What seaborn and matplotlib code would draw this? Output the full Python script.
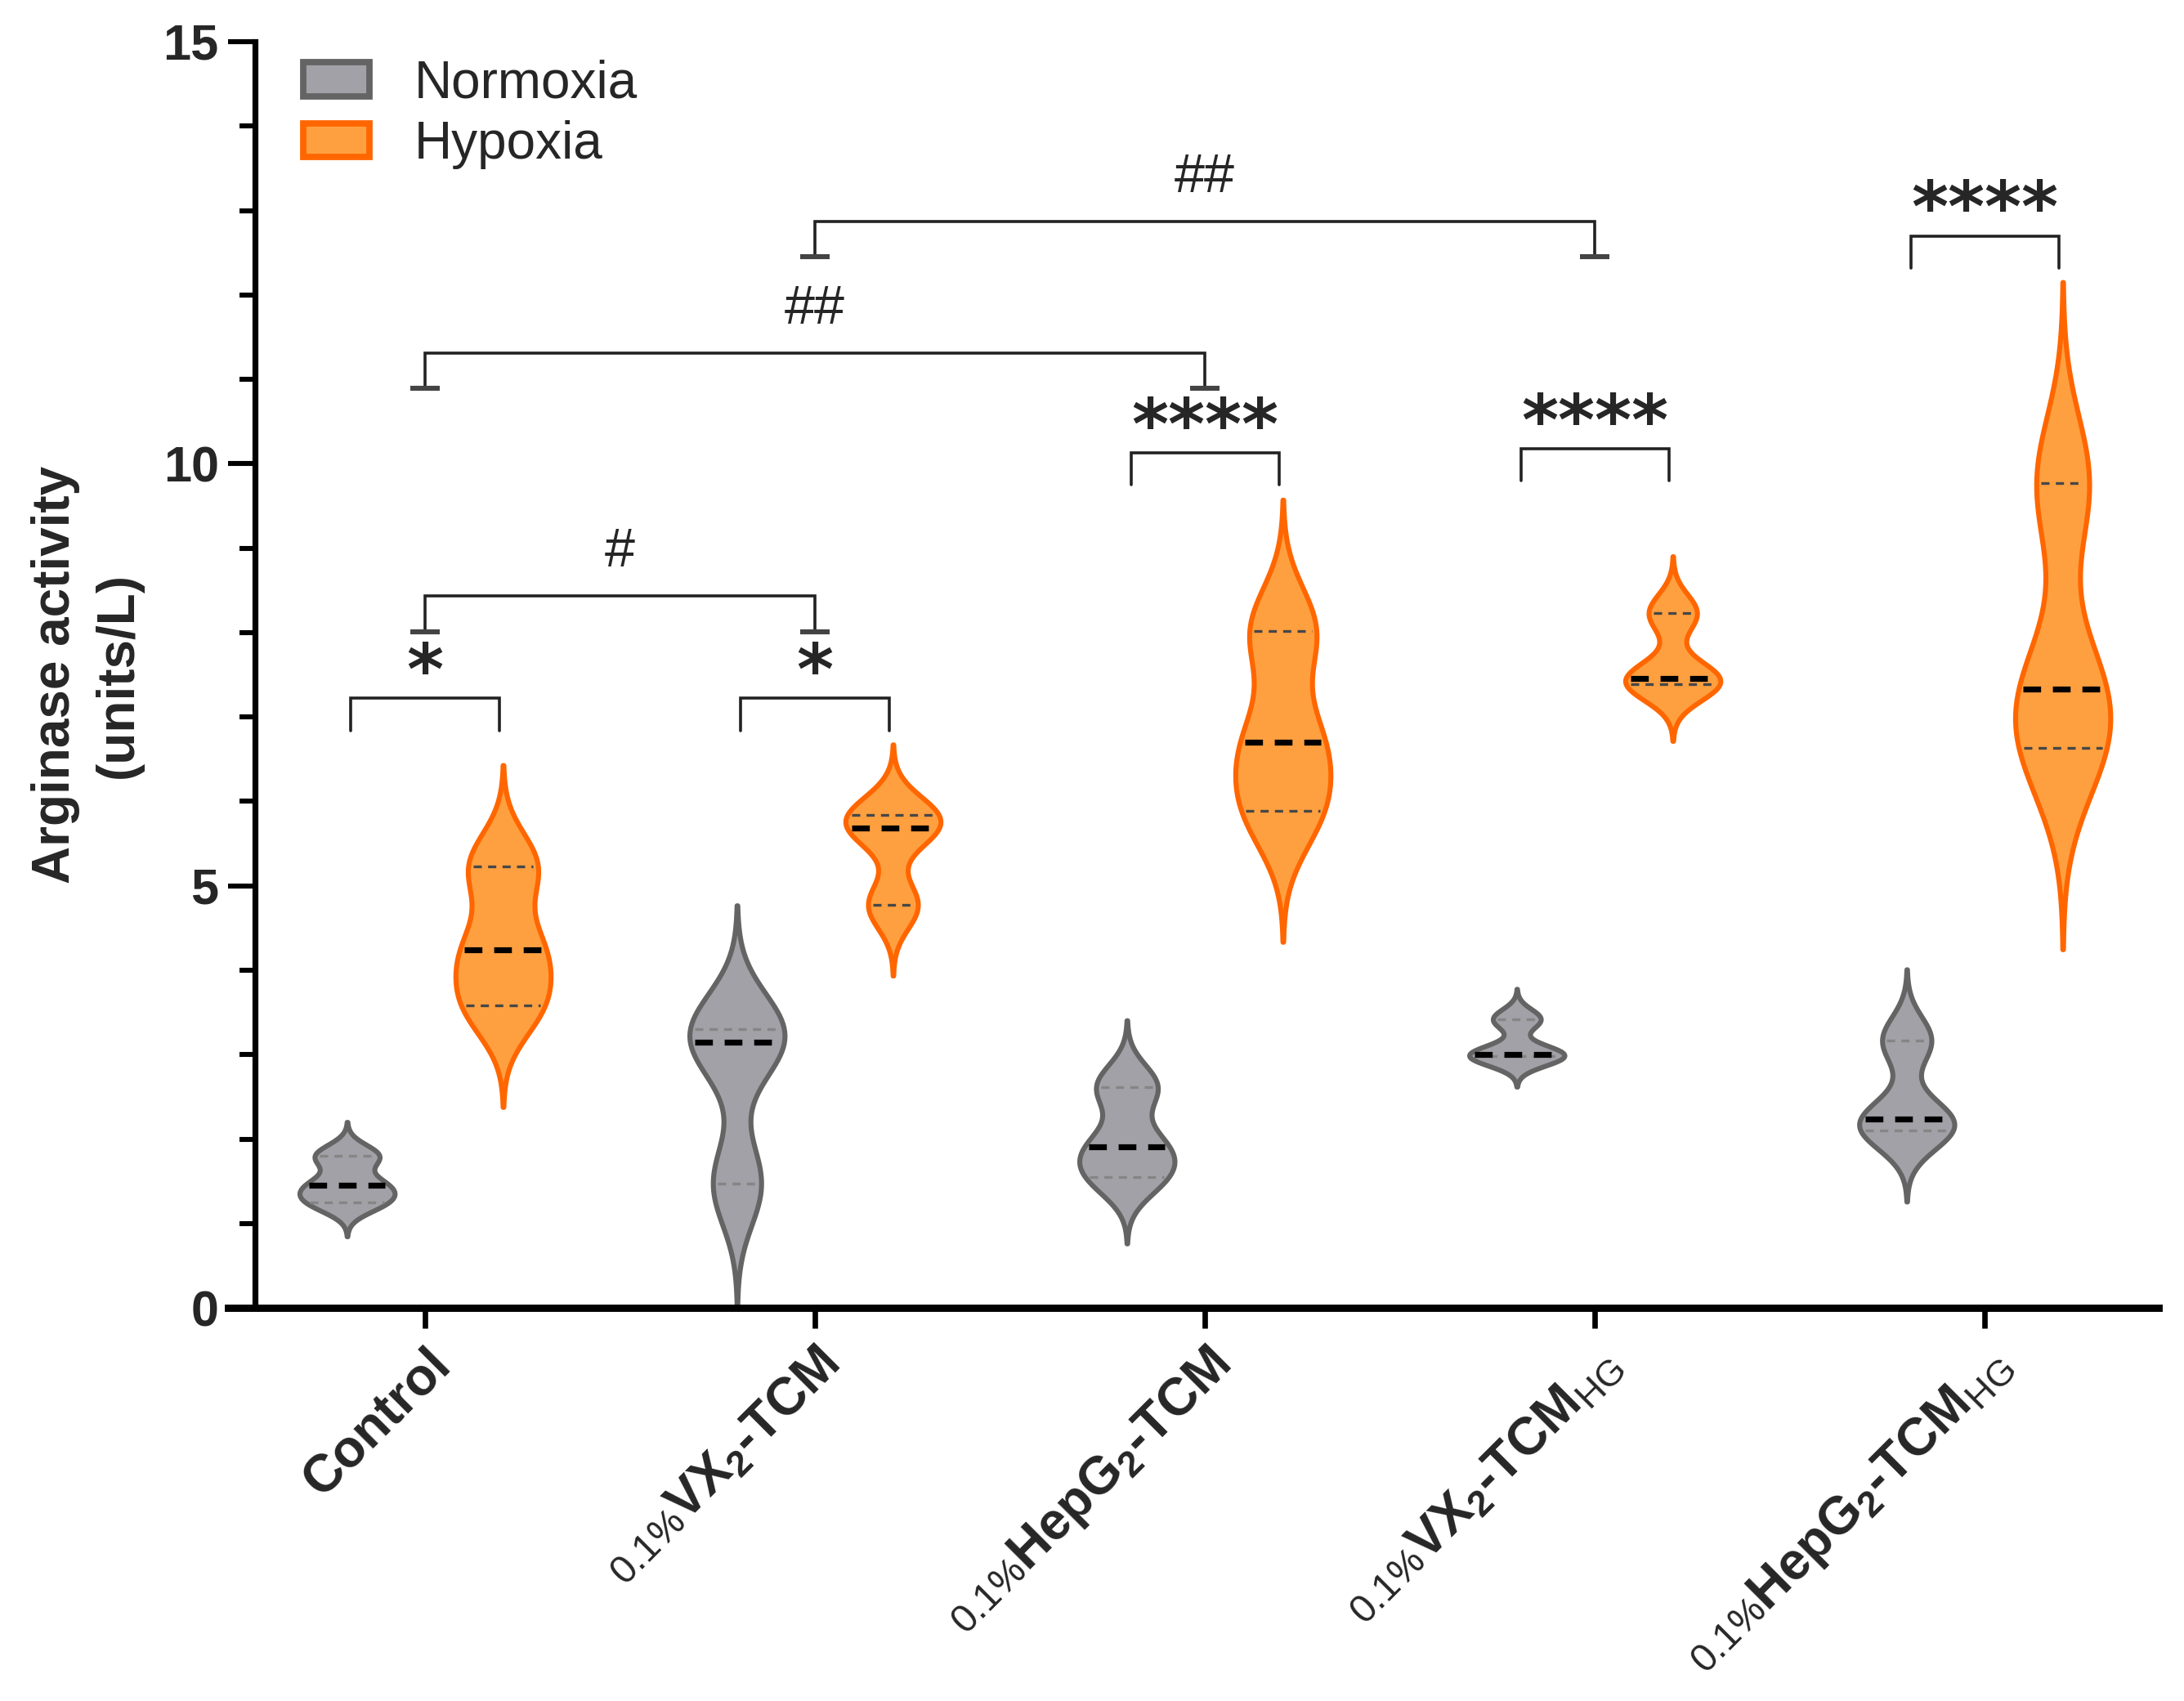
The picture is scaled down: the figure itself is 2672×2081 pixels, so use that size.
import numpy as np
import pandas as pd
import matplotlib
matplotlib.use("Agg")
import matplotlib.pyplot as plt
import seaborn as sns
from matplotlib.patches import Patch
from matplotlib.ticker import MultipleLocator
from matplotlib.transforms import IdentityTransform

groups = ["Control", "VX2-TCM", "HepG2-TCM", "VX2-TCM HG", "HepG2-TCM HG"]
tick_prefixes = ["", "0.1%", "0.1%", "0.1%", "0.1%"]
tick_labels = [
    "Control",
    r"VX$_{\mathbf{2}}$-TCM",
    r"HepG$_{\mathbf{2}}$-TCM",
    r"VX$_{\mathbf{2}}$-TCM$_{\mathrm{HG}}$",
    r"HepG$_{\mathbf{2}}$-TCM$_{\mathrm{HG}}$",
]
conditions = ["Normoxia", "Hypoxia"]
normoxia = [
    [1.25, 1.45, 1.80],
    [1.47, 3.15, 3.30],
    [1.55, 1.91, 2.62],
    [2.98, 3.00, 3.42],
    [2.10, 2.24, 3.17],
]
hypoxia = [
    [3.58, 4.24, 5.23],
    [4.77, 5.68, 5.84],
    [5.89, 6.70, 8.02],
    [7.39, 7.46, 8.23],
    [6.63, 7.33, 9.77],
]

# significance marks: (group index, bracket height, label)
pair_marks = [(0, 7.22, "*"), (1, 7.22, "*"), (2, 10.13, "****"),
              (3, 10.18, "****"), (4, 12.70, "****")]
hash_marks = [(0, 1, 8.43, "#"), (0, 2, 11.31, "##"), (1, 3, 12.87, "##")]

fills = {"Normoxia": "#A1A1A7", "Hypoxia": "#FFA040"}
edges = {"Normoxia": "#646464", "Hypoxia": "#FF6600"}
quart_colors = {"Normoxia": "#858585", "Hypoxia": "#474747"}

DPI = 200
XT_SIZE = 23


def main():
    rows = []
    for cond, series in zip(conditions, [normoxia, hypoxia]):
        for g, vals in zip(groups, series):
            for v in vals:
                rows.append({"group": g, "condition": cond, "value": v})
    df = pd.DataFrame(rows)

    sns.set_style("ticks")
    plt.rcParams["font.family"] = ["Liberation Sans", "DejaVu Sans"]
    plt.rcParams["mathtext.fontset"] = "custom"
    plt.rcParams["mathtext.rm"] = "Liberation Sans"
    plt.rcParams["mathtext.bf"] = "Liberation Sans:bold"
    plt.rcParams["mathtext.it"] = "Liberation Sans:italic"

    fig = plt.figure(figsize=(13.36, 10.405), dpi=DPI)
    ax = fig.add_axes([0.1168, 0.2311, 0.8716, 0.7444])

    sns.violinplot(data=df, x="group", y="value", hue="condition",
                   order=groups, hue_order=conditions, palette=fills,
                   inner=None, cut=3, bw_adjust=0.6, density_norm="width",
                   gap=0.39, linewidth=2.2, saturation=1, legend=False, ax=ax)

    # outline colours, quartile + median lines (Prism style quartiles)
    series = {"Normoxia": normoxia, "Hypoxia": hypoxia}
    for coll in list(ax.collections):
        verts = coll.get_paths()[0].vertices
        cx = (verts[:, 0].min() + verts[:, 0].max()) / 2
        gi = int(round(cx))
        cond = conditions[0] if cx < gi else conditions[1]
        coll.set_edgecolor(edges[cond])
        right = verts[verts[:, 0] >= cx - 1e-9]
        order = np.argsort(right[:, 1])
        ys, xs = right[order, 1], right[order, 0] - cx
        q1, med, q3 = np.percentile(series[cond][gi], [25, 50, 75], method="weibull")
        for y, is_med in [(q1, False), (q3, False), (med, True)]:
            hw = np.interp(y, ys, xs) - 0.012
            if is_med:
                ax.plot([cx - hw, cx + hw], [y, y], color="black", lw=2.6,
                        dashes=(3, 2), solid_capstyle="butt", zorder=4)
            else:
                ax.plot([cx - hw, cx + hw], [y, y], color=quart_colors[cond],
                        lw=1.2, dashes=(3, 2.3), zorder=3)

    # brackets
    for gi, y, lab in pair_marks:
        x0, x1 = gi - 0.19, gi + 0.19
        ax.plot([x0, x0, x1, x1], [y - 0.38, y, y, y - 0.38], color="#222222",
                lw=1.3, solid_joinstyle="miter", clip_on=False)
        ax.text(gi, y + 0.05, lab, ha="center", va="baseline", fontsize=31,
                fontweight="bold", family="DejaVu Sans")
    for a, b, y, lab in hash_marks:
        ax.plot([a, a, b, b], [y - 0.42, y, y, y - 0.42], color="#222222",
                lw=1.3, solid_joinstyle="miter", clip_on=False)
        for xx in (a, b):
            ax.plot([xx - 0.038, xx + 0.038], [y - 0.42, y - 0.42],
                    color="#444444", lw=2.2, solid_capstyle="butt")
        ax.text((a + b) / 2, y + 0.35, lab, ha="center", va="baseline",
                fontsize=24)

    ax.set_xlim(-0.436, 4.446)
    ax.set_ylim(0, 15)
    ax.yaxis.set_major_locator(MultipleLocator(5))
    ax.yaxis.set_minor_locator(MultipleLocator(1))
    sns.despine(ax=ax)
    ax.spines["left"].set_linewidth(2.6)
    ax.spines["bottom"].set_linewidth(3.2)
    ax.spines["left"].set_color("black")
    ax.spines["bottom"].set_color("black")
    ax.spines["bottom"].set_bounds(-0.436 - 33 / 477, 4.446)

    ax.tick_params(axis="y", which="major", length=12, width=2.2, pad=4,
                   labelsize=22, color="black")
    ax.tick_params(axis="y", which="minor", length=7, width=2.2, color="black")
    ax.tick_params(axis="x", length=9, width=2.4, pad=5, labelsize=XT_SIZE,
                   color="black")
    for lab in ax.get_yticklabels():
        lab.set_fontweight("bold")
    ax.set_xticks(range(len(groups)))
    ax.set_xticklabels(tick_labels, rotation=45, ha="right", va="top",
                       rotation_mode="anchor", fontweight="bold")
    ax.set_xlabel("")
    ax.set_ylabel("Arginase activity\n(units/L)", fontsize=23,
                  fontweight="bold", linespacing=1.35)
    ax.yaxis.set_label_coords(-0.059, 0.5)

    handles = [Patch(facecolor=fills[c], edgecolor=edges[c], linewidth=2.8,
                     label=c) for c in conditions]
    ax.legend(handles=handles, loc="upper left", bbox_to_anchor=(0.0253, 0.986),
              frameon=False, fontsize=23, handlelength=1.27, handleheight=0.62,
              handletextpad=0.86, labelspacing=0.22, borderpad=0,
              borderaxespad=0)

    # small regular "0.1%" prefix in front of the bold tick labels
    fig.canvas.draw()
    renderer = fig.canvas.get_renderer()
    u = np.array([np.cos(np.pi / 4), np.sin(np.pi / 4)])
    n = np.array([-np.sin(np.pi / 4), np.cos(np.pi / 4)])
    px = DPI / 72
    for lab, pre in zip(ax.get_xticklabels(), tick_prefixes):
        if not pre:
            continue
        tmp = fig.text(0, 0, lab.get_text(), fontsize=XT_SIZE, fontweight="bold")
        width = tmp.get_window_extent(renderer).width
        tmp.remove()
        anchor = lab.get_transform().transform(lab.get_position())
        drop = (0.716 + 0.03) * XT_SIZE * px
        p = anchor - (width - 0.02 * XT_SIZE * px) * u - drop * n
        fig.text(p[0], p[1], pre, transform=IdentityTransform(),
                 fontsize=XT_SIZE * 0.75, rotation=45, rotation_mode="anchor",
                 ha="right", va="baseline")

    fig.savefig("out.png", dpi=DPI)


if __name__ == "__main__":
    main()
